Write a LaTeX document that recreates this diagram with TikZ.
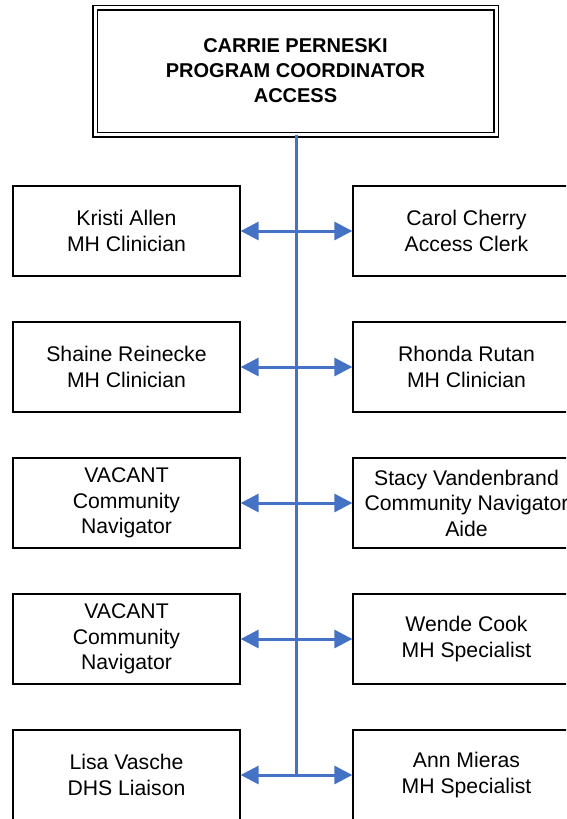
\documentclass[tikz,border=0pt]{standalone}
\usepackage{fontspec}
\setmainfont{Liberation Sans}
\usetikzlibrary{arrows.meta}
\definecolor{lineblue}{HTML}{4472C4}
\begin{document}
\begin{tikzpicture}[x=1pt,y=-1pt,
  staffbox/.style={draw=black,line width=1.3pt,minimum width=227pt,minimum height=90pt,inner sep=0pt,align=center,font=\fontsize{21.2}{25.5}\selectfont},
  headbox/.style={draw=black,line width=1.5pt,double,double distance=3pt,minimum width=401pt,minimum height=127pt,inner sep=0pt,align=center,font=\fontsize{20}{25}\selectfont\bfseries},
  link/.style={lineblue,line width=3pt},
  biarrow/.style={lineblue,line width=3pt,{Triangle[length=18pt,width=18pt]}-{Triangle[length=18pt,width=18pt]}}]
\useasboundingbox (0,0) rectangle (566,819);
\clip (0,0) rectangle (566,819);
\node[headbox] (head) at (295.5,71) {CARRIE PERNESKI\\PROGRAM COORDINATOR\\ACCESS};
\node[staffbox] (l1) at (126.5,231) {Kristi Allen\\MH Clinician};
\node[staffbox] (r1) at (466.5,231) {Carol Cherry\\Access Clerk};
\node[staffbox] (l2) at (126.5,367) {Shaine Reinecke\\MH Clinician};
\node[staffbox] (r2) at (466.5,367) {Rhonda Rutan\\MH Clinician};
\node[staffbox] (l3) at (126.5,503) {VACANT\\Community\\Navigator};
\node[staffbox] (r3) at (466.5,503) {Stacy Vandenbrand\\Community Navigator\\Aide};
\node[staffbox] (l4) at (126.5,639) {VACANT\\Community\\Navigator};
\node[staffbox] (r4) at (466.5,639) {Wende Cook\\MH Specialist};
\node[staffbox] (l5) at (126.5,775) {Lisa Vasche\\DHS Liaison};
\node[staffbox] (r5) at (466.5,775) {Ann Mieras\\MH Specialist};
\coordinate (bottom) at (296,775);
\draw[link] (head.south -| bottom) -- (bottom);
\foreach \i in {1,...,5}{
  \draw[biarrow] (l\i.east) -- (r\i.west);
}
\end{tikzpicture}
\end{document}
